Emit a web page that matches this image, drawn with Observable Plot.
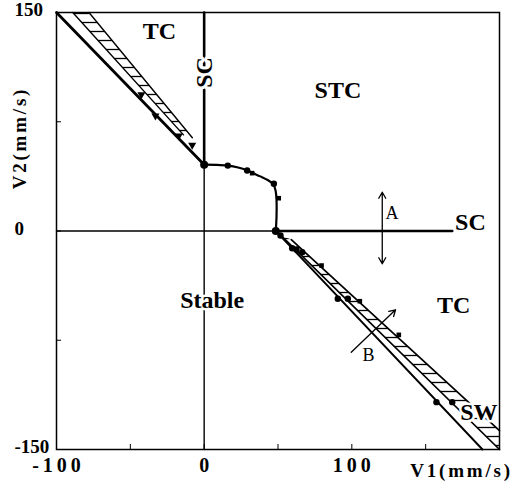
<!DOCTYPE html>
<html><head><meta charset="utf-8">
<script src="https://cdn.jsdelivr.net/npm/d3@7"></script>
<script src="https://cdn.jsdelivr.net/npm/@observablehq/plot@0.6"></script>
<style>
body{margin:0;background:#fff;}
</style></head><body><div id="chart"></div>
<script>
// axis ticks and labels
const xTicks = [-100, -50, 0, 50, 100, 150, 200];
const yTicks = [-150, -75, 0, 75, 150];
const xTickLabels = [-100, 0, 100];
const yTickLabels = [150, 0, -150];

// boundary lines [V1, V2]
const ulMainLine = [[-100, 150], [0, 45.5]];
const scVertical = [[0, 45.5], [0, 150]];
const boundaryCurve = [[0,45.5],[8,45.4],[16,44.9],[23,43.6],[29,41.7],[33,39.8],[38,37.5],[43,35],[46.5,32.5],[48.3,28],[49,21],[49,10],[48.5,0]];
const scHorizontal = [[48.5, 0], [168, 0]];
const zeroV1 = [[0, -150], [0, 45.5]];
const zeroV2 = [[-100, 0], [48.5, 0]];
const lrMainLine = [[48.5, 0], [188.5, -150]];

// hatched bands (lower edge x1,y1 ; upper edge x2,y2)
const ulBand = [{x1: -89, y1: 150, x2: -78, y2: 150}, {x1: -14, y1: 66, x2: -8, y2: 64}];
const lrBand = [{x1: 53, y1: -4, x2: 59, y2: -6}, {x1: 200, y1: -150, x2: 200, y2: -137}];

// measured points
const trianglePts = [[-42.5, 93.7], [-33, 79.1], [-17.2, 65.4], [-8.1, 58.9]];
const dotPts = [[16, 44.9], [29.1, 41.5], [47.2, 32.4], [51.7, -3.1], [59.6, -11.8], [62.5, -12.7], [66.4, -14.6],
  [90.5, -46.5], [97.3, -46.5], [157.3, -117.5], [168, -117.5]];
const nodePts = [[0, 45.5], [48.5, 0]];
const squarePts = [[32.5, 39.7], [50.5, 22.5], [79.5, -23.7], [105.4, -48.2], [131.8, -71.3]];

// annotations
const regionLabels = [
  {text: "TC", x: -30.3, y: 136.8},
  {text: "STC", x: 90.6, y: 96.5},
  {text: "SC", x: 180.3, y: 6.2},
  {text: "Stable", x: 5.4, y: -47.7},
  {text: "TC", x: 169, y: -51.1},
  {text: "SW", x: 186, y: -124.4}
];
const verticalLabels = [{text: "SC", x: 0, y: 108.8}];
const arrowA = [{x1: 120.6, y1: 0, x2: 120.6, y2: 26.6}, {x1: 120.6, y1: 0, x2: 120.6, y2: -22.5}];
const arrowB = [{x1: 99.6, y1: -83.2, x2: 129.6, y2: -54.1}];
const arrowLabels = [{text: "A", x: 127.2, y: 12.4}, {text: "B", x: 111.3, y: -85.5}];
const axisLabelX = [{text: "V1(mm/s)", x: 173.6, y: -164.4}];
const axisLabelY = [{text: "V2(mm/s)", x: -125, y: 63.8}];

const serif = "'Liberation Serif', 'Times New Roman', Times, serif";
const P = d => d[0], Q = d => d[1];
const SPACED_TICK = "#000001", SPACED_LABEL = "#000002";

const svg = Plot.plot({
  width: 514, height: 498,
  marginLeft: 56, marginRight: 15, marginTop: 12, marginBottom: 49,
  x: {domain: [-100, 200]},
  y: {domain: [-150, 150]},
  style: {background: "white", color: "black", fontFamily: serif, fontSize: "19px"},
  marks: [
    Plot.area(ulBand, {x1: "x1", y1: "y1", x2: "x2", y2: "y2", fill: "url(#hatch)"}),
    Plot.area(lrBand, {x1: "x1", y1: "y1", x2: "x2", y2: "y2", fill: "url(#hatch)"}),
    Plot.line(ulBand, {x: "x1", y: "y1", strokeWidth: 1.4}),
    Plot.line(ulBand, {x: "x2", y: "y2", strokeWidth: 1.4}),
    Plot.line(lrBand, {x: "x1", y: "y1", strokeWidth: 1.7}),
    Plot.line(lrBand, {x: "x2", y: "y2", strokeWidth: 1.7}),
    Plot.line(zeroV1, {x: P, y: Q, strokeWidth: 1.4}),
    Plot.line(zeroV2, {x: P, y: Q, strokeWidth: 1.4}),
    Plot.line(ulMainLine, {x: P, y: Q, strokeWidth: 2.8}),
    Plot.line(scVertical, {x: P, y: Q, strokeWidth: 2.6}),
    Plot.line(boundaryCurve, {x: P, y: Q, strokeWidth: 2.2, curve: "catmull-rom"}),
    Plot.line(scHorizontal, {x: P, y: Q, strokeWidth: 2.6}),
    Plot.line(lrMainLine, {x: P, y: Q, strokeWidth: 1.9}),
    Plot.dot(trianglePts, {x: P, y: Q, symbol: "triangle", r: 3, fill: "black", rotate: 180}),
    Plot.dot(dotPts, {x: P, y: Q, r: 3.2, fill: "black"}),
    Plot.dot(nodePts, {x: P, y: Q, r: 4, fill: "black"}),
    Plot.dot(squarePts, {x: P, y: Q, symbol: "square", r: 2.6, fill: "black"}),
    Plot.arrow(arrowA, {x1: "x1", y1: "y1", x2: "x2", y2: "y2", strokeWidth: 1.3, headLength: 8}),
    Plot.arrow(arrowB, {x1: "x1", y1: "y1", x2: "x2", y2: "y2", strokeWidth: 1.3, headLength: 8}),
    Plot.text(regionLabels, {x: "x", y: "y", text: "text", fontSize: 24, fontWeight: "bold", fill: "black", stroke: "white", strokeWidth: 5, paintOrder: "stroke"}),
    Plot.text(verticalLabels, {x: "x", y: "y", text: "text", rotate: -90, fontSize: 24, fontWeight: "bold", fill: "black", stroke: "white", strokeWidth: 6, paintOrder: "stroke"}),
    Plot.text(arrowLabels, {x: "x", y: "y", text: "text", fontSize: 18, fill: "black"}),
    Plot.frame({strokeWidth: 1.5}),
    Plot.axisX({ticks: xTicks, tickSize: -5, tickFormat: () => "", label: null}),
    Plot.axisY({ticks: yTicks, tickSize: -5, tickFormat: () => "", label: null}),
    Plot.text(xTickLabels, {x: d => d, text: d => String(d), frameAnchor: "bottom", dy: 22, dx: 2, fontSize: 20, fontWeight: "bold", fill: SPACED_TICK}),
    Plot.text(yTickLabels, {y: d => d, text: d => String(d), frameAnchor: "left", dx: -42, dy: -2.5, textAnchor: "start", fontSize: 19, fontWeight: "bold"}),
    Plot.text(axisLabelX, {x: "x", y: "y", text: "text", dx: 1, fontSize: 19, fontWeight: "bold", fill: SPACED_LABEL}),
    Plot.text(axisLabelY, {x: "x", y: "y", text: "text", rotate: -90, fontSize: 19, fontWeight: "bold", fill: SPACED_LABEL})
  ]
});
const defs = document.createElementNS("http://www.w3.org/2000/svg", "defs");
defs.innerHTML = '<pattern id="hatch" patternUnits="userSpaceOnUse" width="9" height="9"><line x1="0" y1="4.5" x2="9" y2="4.5" stroke="black" stroke-width="1.3"/></pattern>';
svg.insertBefore(defs, svg.firstChild);
svg.querySelectorAll(`[fill="${SPACED_TICK}"]`).forEach(g => { g.style.letterSpacing = "4px"; g.setAttribute("fill", "black"); });
svg.querySelectorAll(`[fill="${SPACED_LABEL}"]`).forEach(g => { g.style.letterSpacing = "2.8px"; g.setAttribute("fill", "black"); });
document.getElementById("chart").appendChild(svg);
</script></body></html>
